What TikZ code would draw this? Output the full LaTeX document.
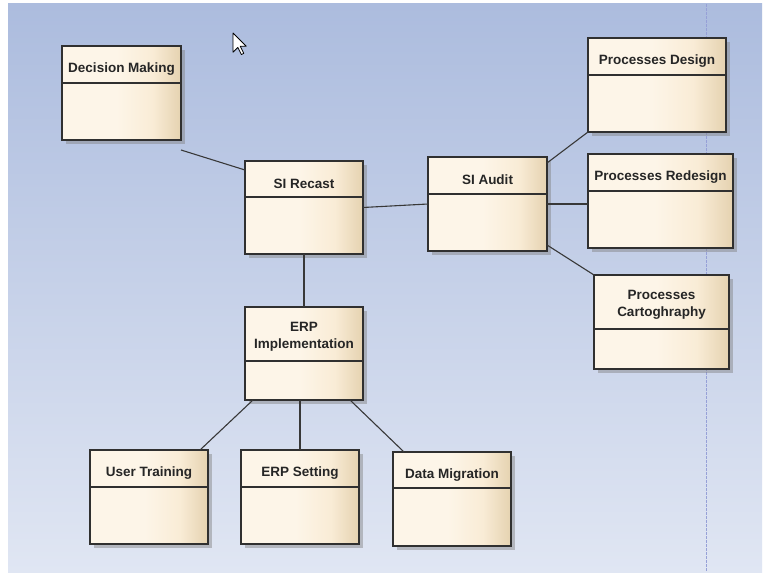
\documentclass[tikz,border=0pt]{standalone}
\usepackage{fontspec}
\setmainfont{Liberation Sans}
\usepackage{xcolor}
\usepackage{tikz}
\usetikzlibrary{calc,shadows}
\definecolor{bgtop}{RGB}{172,188,222}
\definecolor{bgbottom}{RGB}{224,230,243}
\definecolor{creamlight}{RGB}{253,245,232}
\definecolor{creammid}{RGB}{249,236,214}
\definecolor{creamdark}{RGB}{229,210,176}
\definecolor{edgegray}{RGB}{48,48,48}
\definecolor{guideblue}{RGB}{150,160,215}
\pgfdeclarehorizontalshading{classfill}{100bp}{color(0bp)=(creamlight); color(25bp)=(creamlight); color(48bp)=(creamlight); color(63bp)=(creammid); color(75bp)=(creamdark); color(100bp)=(creamdark)}
\tikzset{
  classbox/.style={draw=edgegray,line width=1.3pt,shading=classfill,inner sep=0pt,outer sep=0pt,anchor=north west,
    drop shadow={shadow xshift=4pt,shadow yshift=-4pt,fill=black!50,opacity=.45},
    path picture={\draw[classrule] ([yshift=-#1]path picture bounding box.north west) -- ([yshift=-#1]path picture bounding box.north east);}},
  classrule/.style={draw=edgegray,line width=1.3pt},
  classtitle/.style={font=\bfseries\fontsize{13.5}{17.5}\selectfont,text=black!85,align=center,inner sep=0pt},
  link/.style={draw=black!78,line width=1.1pt}
}

\begin{document}
\begin{tikzpicture}[x=1pt,y=-1pt]
    \useasboundingbox (0,0) rectangle (769,575);
    \fill[white] (0,0) rectangle (769,575);
    \fill[top color=bgtop,bottom color=bgbottom] (8,4) rectangle (762,572);
    \draw[guideblue,line width=1pt,dash pattern=on 3pt off 1pt] (706,4) -- (706,572);
    % classes
    \node[classbox=37pt,minimum width=119pt,minimum height=94pt] (decision) at (62,46) {};
    \node[classbox=36pt,minimum width=118pt,minimum height=93pt] (recast) at (245,161) {};
    \node[classbox=37pt,minimum width=119pt,minimum height=94pt] (audit) at (428,157) {};
    \node[classbox=37pt,minimum width=138pt,minimum height=94pt] (design) at (588,38) {};
    \node[classbox=37pt,minimum width=145pt,minimum height=94pt] (redesign) at (588,154) {};
    \node[classbox=54pt,minimum width=135pt,minimum height=94pt] (carto) at (594,275) {};
    \node[classbox=54pt,minimum width=118pt,minimum height=93pt] (erp) at (245,307) {};
    \node[classbox=37pt,minimum width=118pt,minimum height=94pt] (training) at (90,450) {};
    \node[classbox=37pt,minimum width=118pt,minimum height=94pt] (setting) at (241,450) {};
    \node[classbox=36pt,minimum width=118pt,minimum height=94pt] (migration) at (393,452) {};
    % titles
    \node[classtitle] (decision-title) at ($(decision.north)+(0,23)$) {Decision Making};
    \node[classtitle] (recast-title) at ($(recast.north)+(0,23)$) {SI Recast};
    \node[classtitle] (audit-title) at ($(audit.north)+(0,23)$) {SI Audit};
    \node[classtitle] (design-title) at ($(design.north)+(0,23)$) {Processes Design};
    \node[classtitle] (redesign-title) at ($(redesign.north)+(0,23)$) {Processes Redesign};
    \node[classtitle] (carto-title) at ($(carto.north)+(0,30)$) {Processes\\Cartoghraphy};
    \node[classtitle] (erp-title) at ($(erp.north)+(0,30)$) {ERP\\Implementation};
    \node[classtitle] (training-title) at ($(training.north)+(0,23)$) {User Training};
    \node[classtitle] (setting-title) at ($(setting.north)+(0,23)$) {ERP Setting};
    \node[classtitle] (migration-title) at ($(migration.north)+(0,23)$) {Data Migration};
    % links
    \draw[link] ([yshift=-10pt]decision.south east) -- ([yshift=-9pt]recast.north west);
    \draw[link] (recast.east) -- (audit.west);
    \draw[link] (recast.south) -- (erp.north);
    \draw[link] ([yshift=-6pt]audit.north east) -- (design.south west);
    \draw[link] (audit.east) -- (audit.east -| redesign.west);
    \draw[link] ([yshift=6pt]audit.south east) -- (carto.north west);
    \draw[link] ([xshift=8pt]erp.south west) -- ([xshift=-8pt]training.north east);
    \draw[link] (setting.north |- erp.south) -- (setting.north);
    \draw[link] ([xshift=-13pt]erp.south east) -- ([xshift=11pt]migration.north west);
    % mouse pointer
    \draw[black,fill=white,line width=0.8pt,line join=round,shift={(233,33)},scale=1.2]
      (0,0) -- (0,16) -- (4,12) -- (7,18) -- (9,17) -- (6,11) -- (11,11) -- cycle;
  \end{tikzpicture}
\end{document}
